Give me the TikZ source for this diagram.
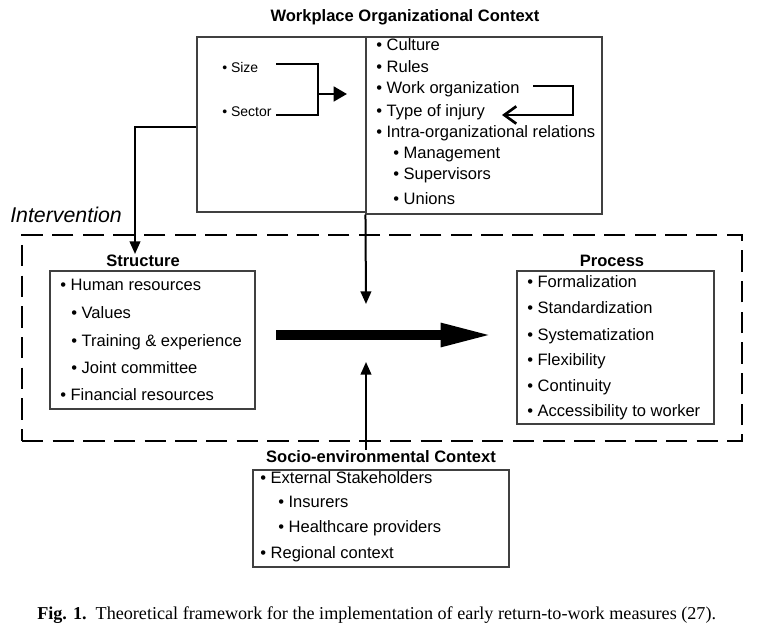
\documentclass[tikz,border=0pt]{standalone}
\usepackage{fontspec}
\setmainfont{Liberation Sans}
\newfontfamily\capfont{Liberation Serif}
\usetikzlibrary{positioning,arrows.meta,fit}

\tikzset{
  frame/.style={draw=black!75, line width=0.8pt, inner sep=0pt},
  itm/.style={anchor=base west, inner sep=0pt, font=\fontsize{12.4}{15}\selectfont},
  small/.style={itm, font=\fontsize{10.5}{12}\selectfont},
  head/.style={anchor=base, inner sep=0pt, font=\bfseries\fontsize{12.4}{15}\selectfont},
  arr/.style={line width=1.5pt, -{Triangle[length=9.5pt, width=8pt]}},
  brk/.style={line width=2pt},
  bigarr/.style={line width=7.5pt, -{Triangle[length=40pt, width=16pt]}},
  zone/.style={draw, line width=2.2pt, dash pattern=on 16pt off 7pt, inner sep=0pt}
}

\begin{document}
\begin{tikzpicture}[x=0.75pt, y=-0.75pt]
\useasboundingbox (0,0) rectangle (770,634);

% workplace context
\node[head] (wtitle) at (405,22) {Workplace Organizational Context};
\node[frame, fit={(197,37) (366,212)}] (wleft) {};
\node[frame, fit={(366,37) (602,214)}] (wright) {};
\node[small] (size) at (222,73) {• Size};
\node[small] (sector) at (222,117) {• Sector};
\node[itm] (culture) at (376,51) {• Culture};
\node[itm] (rules) at (376,73) {• Rules};
\node[itm] (work) at (376,94) {• Work organization};
\node[itm] (injury) at (376,117) {• Type of injury};
\node[itm] (intra) at (376,138) {• Intra-organizational relations};
\node[itm] (mgmt) at (393,159) {• Management};
\node[itm] (superv) at (393,180) {• Supervisors};
\node[itm] (unions) at (393,205) {• Unions};

% brackets
\coordinate (szend) at (276,64);
\coordinate (scend) at (276,115);
\coordinate (join) at (318,94);
\coordinate (jtip) at (347,94);
\draw[brk] (szend) -| (join) |- (scend);
\draw[brk, -{Triangle[length=10pt, width=11pt]}] (join) -- (jtip);
\coordinate (woend) at (533,86);
\coordinate (wturn) at (573,100);
\coordinate (tytip) at (502,115);
\draw[brk, -{Straight Barb[length=9pt, width=13pt]}] (woend) -| (wturn) |- (tytip);

% intervention
\node[zone, fit={(22,235) (742,441)}] (interv) {};
\node[anchor=base west, inner sep=0pt, font=\itshape\fontsize{16}{18}\selectfont] (ivlabel) at (10,223) {Intervention};

% structure
\node[head] (sttitle) at (143,267) {Structure};
\node[frame, fit={(50,271) (255,409)}] (stbox) {};
\node[itm] (human) at (60,291) {• Human resources};
\node[itm] (values) at (71,318) {• Values};
\node[itm] (train) at (71,346) {• Training \& experience};
\node[itm] (joint) at (71,373) {• Joint committee};
\node[itm] (financ) at (60,400) {• Financial resources};

% process
\node[head] (prtitle) at (612,267) {Process};
\node[frame, fit={(517,271) (714,424)}] (prbox) {};
\node[itm] (formal) at (527,288) {• Formalization};
\node[itm] (standard) at (527,314) {• Standardization};
\node[itm] (system) at (527,340) {• Systematization};
\node[itm] (flex) at (527,365) {• Flexibility};
\node[itm] (contin) at (527,391) {• Continuity};
\node[itm] (access) at (527,416) {• Accessibility to worker};

% socio-environmental context
\node[head] (sotitle) at (381,462) {Socio-environmental Context};
\node[frame, fit={(253,470) (509,567)}] (sobox) {};
\node[itm] (extern) at (260,483) {• External Stakeholders};
\node[itm] (insur) at (278,507) {• Insurers};
\node[itm] (health) at (278,532) {• Healthcare providers};
\node[itm] (region) at (260,558) {• Regional context};

% arrows
\coordinate (sttop) at (135,254);
\coordinate (dtip) at (366,304);
\coordinate (utip) at (366,362);
\coordinate (flowstart) at (276,335);
\coordinate (flowend) at (494,335);
\draw[arr] (wleft.west |- 0,127) -| (sttop);
\draw[arr] (wright.south west) -- (dtip);
\draw[arr] (sotitle.north -| utip) -- (utip);
\draw[bigarr] (flowstart) -- (flowend);

% caption
\node[anchor=base west, inner sep=0pt, font=\capfont\fontsize{13.6}{15}\selectfont] (caption) at (37,619)
  {\textbf{Fig. 1.}\ \ Theoretical framework for the implementation of early return-to-work measures (27).};
\end{tikzpicture}
\end{document}
